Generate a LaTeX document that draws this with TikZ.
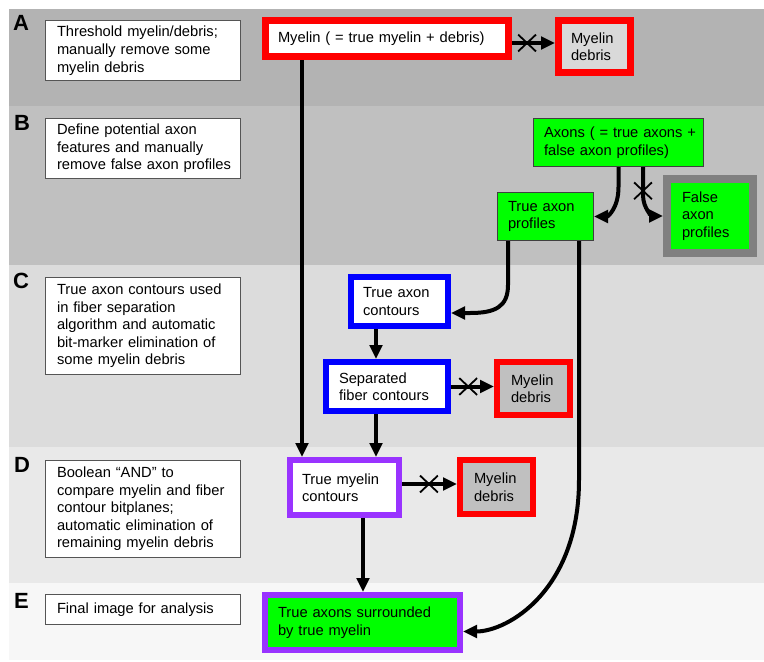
\documentclass[tikz,border=0pt]{standalone}
\usepackage{fontspec}
\setmainfont{Liberation Sans}
\usetikzlibrary{arrows.meta,shapes.misc,calc}
\definecolor{bandA}{HTML}{B3B3B3}
\definecolor{bandB}{HTML}{C0C0C0}
\definecolor{bandC}{HTML}{DCDCDC}
\definecolor{bandD}{HTML}{E9E9E9}
\definecolor{bandE}{HTML}{F7F7F7}
\definecolor{descgray}{HTML}{555555}
\definecolor{lgreen}{HTML}{00FF00}
\definecolor{thinborder}{HTML}{404040}
\definecolor{falsegray}{HTML}{808080}
\definecolor{purp}{HTML}{9933FF}
\definecolor{debrisL}{HTML}{D9D9D9}
\definecolor{debrisM}{HTML}{C0C0C0}
\begin{document}
\begin{tikzpicture}[x=1pt,y=-1pt,
  base/.style={rectangle, align=left, inner ysep=0pt, font=\fontsize{14.7}{17.5}\selectfont},
  dims/.style n args={3}{text width=#1, inner xsep=#2, minimum height=#3},
  desc/.style={base, draw=descgray, line width=1pt, fill=white, outer sep=0.5pt},
  thinbox/.style={base, draw=thinborder, line width=1pt, fill=lgreen, outer sep=0.5pt},
  fat7/.style={base, line width=7pt, outer sep=3.5pt},
  fat6/.style={base, line width=6pt, outer sep=3pt},
  arr/.style={line width=4pt, -{Triangle[length=14pt,width=12.5pt]}},
  xmark/.style={-, cross out, draw=black, line width=1.8pt, minimum width=16pt, minimum height=15pt, inner sep=0pt},
  letter/.style={font=\fontsize{22}{22}\selectfont\bfseries, anchor=base west, inner sep=0pt}
]
\useasboundingbox (0,0) rectangle (764,662);
\fill[white] (0,0) rectangle (764,662);
% bands
\fill[bandA] (9,9) rectangle (764,106);
\fill[bandB] (9,106) rectangle (764,265);
\fill[bandC] (9,265) rectangle (764,447);
\fill[bandD] (9,447) rectangle (764,583);
\fill[bandE] (9,583) rectangle (764,660);
% letters
\node[letter] (lA) at (13,30) {A};
\node[letter] (lB) at (14,130) {B};
\node[letter] (lC) at (13,288) {C};
\node[letter] (lD) at (14,472) {D};
\node[letter] (lE) at (14,608) {E};
% description boxes
\node[desc, dims={172pt}{11.5pt}{60pt}, font=\fontsize{14.7}{18.3}\selectfont] (descA) at (143,50.5)
  {\mbox{Threshold myelin/debris;}\\\mbox{manually remove some}\\\mbox{myelin debris}};
\node[desc, dims={172pt}{11.5pt}{60pt}] (descB) at (143,148.5)
  {\mbox{Define potential axon}\\\mbox{features and manually}\\\mbox{remove false axon profiles}};
\node[desc, dims={172pt}{11.5pt}{97pt}] (descC) at (143,326)
  {\mbox{True axon contours used}\\\mbox{in fiber separation}\\\mbox{algorithm and automatic}\\\mbox{bit-marker elimination of}\\\mbox{some myelin debris}};
\node[desc, dims={172pt}{11.5pt}{97pt}] (descD) at (143,509)
  {\mbox{Boolean “AND” to}\\\mbox{compare myelin and fiber}\\\mbox{contour bitplanes;}\\\mbox{automatic elimination of}\\\mbox{remaining myelin debris}};
\node[desc, dims={172pt}{11.5pt}{30pt}] (descE) at (143,609.5)
  {\mbox{Final image for analysis}};
% flow boxes
\node[fat7, draw=red, fill=white, dims={218pt}{12.5pt}{36pt}] (myelinA) at (387,38.5)
  {\mbox{Myelin ( = true myelin + debris)}};
\node[fat7, draw=red, fill=debrisL, dims={47pt}{12.5pt}{52pt}] (debrisA) at (594.5,46.5)
  {\mbox{Myelin}\\\mbox{debris}};
\node[thinbox, dims={149pt}{10.5pt}{48pt}] (axons) at (618.5,142.5)
  {\mbox{Axons ( = true axons +}\\\mbox{false axon profiles)}};
\node[thinbox, dims={75pt}{10.5pt}{48pt}] (trueprof) at (545.5,216.5)
  {\mbox{True axon}\\\mbox{profiles}};
\node[base, draw=falsegray, line width=8pt, outer sep=4pt, fill=lgreen, dims={56pt}{15pt}{74pt}] (falseprof) at (710,216)
  {\mbox{False}\\\mbox{axon}\\\mbox{profiles}};
\node[fat6, draw=blue, fill=white, dims={73pt}{12pt}{49pt}] (contours) at (399.5,301.5)
  {\mbox{True axon}\\\mbox{contours}};
\node[fat6, draw=blue, fill=white, dims={96pt}{13pt}{49pt}] (separated) at (387,386.5)
  {\mbox{Separated}\\\mbox{fiber contours}};
\node[fat6, draw=red, fill=debrisM, dims={45pt}{14pt}{53pt}] (debrisC) at (533.5,388.5)
  {\mbox{Myelin}\\\mbox{debris}};
\node[fat6, draw=purp, fill=white, dims={85pt}{12pt}{55pt}] (truemyelin) at (344.5,487.5)
  {\mbox{True myelin}\\\mbox{contours}};
\node[fat6, draw=red, fill=debrisM, dims={45pt}{14pt}{54pt}] (debrisD) at (496.5,487)
  {\mbox{Myelin}\\\mbox{debris}};
\node[fat6, draw=purp, fill=lgreen, dims={169pt}{13pt}{55pt}] (final) at (362.5,622.5)
  {\mbox{True axons surrounded}\\\mbox{by true myelin}};
% connectors
\coordinate (m1) at ($(myelinA.east)+(0,4.5)$);
\draw[arr] (m1) -- node[xmark,pos=0.35]{} (m1 -| debrisA.west);
\coordinate (m0) at ($(myelinA.south west)+(40,0)$);
\draw[arr] (m0) -- (m0 |- truemyelin.north);
\coordinate (p1) at ($(axons.south)+(0,20)$);
\draw[arr] (axons.south) -- (p1) .. controls ($(p1)+(0,21)$) and ($(trueprof.east)+(14,0)$) .. (trueprof.east);
\coordinate (a1) at ($(axons.south)+(24.5,0)$);
\coordinate (a2) at ($(a1)+(0,28)$);
\draw[arr] (a1) -- node[xmark,pos=0.85]{} (a2) .. controls ($(a2)+(0,14)$) and ($(falseprof.west)+(-10,0)$) .. (falseprof.west);
\coordinate (t1) at ($(trueprof.south west)+(11,0)$);
\coordinate (t2) at ($(t1)+(0,44)$);
\coordinate (t3) at ($(contours.east)+(19,11.5)$);
\draw[arr] (t1) -- (t2) .. controls ($(t2)+(0,22)$) and ($(t3)+(25,0)$) .. (t3) -- ($(contours.east)+(0,11.5)$);
\coordinate (f1) at ($(trueprof.south east)+(-15,0)$);
\coordinate (f2) at ($(f1)+(0,239)$);
\coordinate (f3) at ($(final.east)+(0,9)$);
\draw[arr] (f1) -- (f2) .. controls ($(f2)+(0,110)$) and ($(f3)+(45,0)$) .. (f3);
\coordinate (c1) at ($(contours.south)+(-23.5,0)$);
\draw[arr] (c1) -- (c1 |- separated.north);
\coordinate (c2) at ($(separated.south)+(-11,0)$);
\draw[arr] (c2) -- (c2 |- truemyelin.north);
\draw[arr] (separated.east) -- node[xmark,pos=0.4]{} (separated.east -| debrisC.west);
\coordinate (d1) at ($(truemyelin.east)+(0,-3.5)$);
\draw[arr] (d1) -- node[xmark,pos=0.49]{} (d1 -| debrisD.west);
\coordinate (e1) at ($(truemyelin.south)+(18.5,0)$);
\draw[arr] (e1) -- (e1 |- final.north);
\end{tikzpicture}
\end{document}
